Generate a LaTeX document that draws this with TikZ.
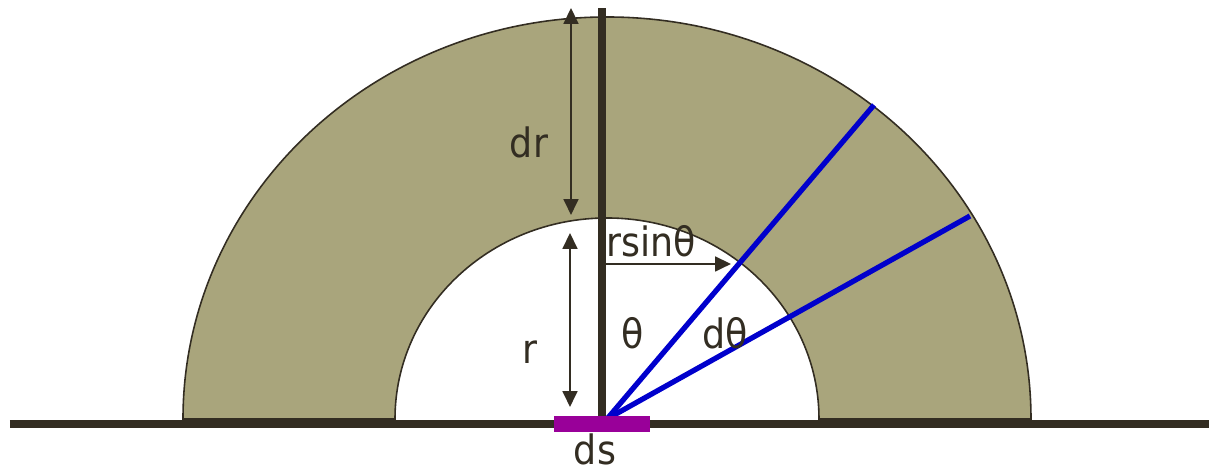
\documentclass[tikz,border=0pt]{standalone}
\usepackage{fontspec}
\setmainfont{DejaVu Sans}[FakeStretch=0.9]
\definecolor{inkdark}{RGB}{51,45,34}
\definecolor{ringfill}{RGB}{169,165,124}
\definecolor{rayblue}{RGB}{0,0,204}
\definecolor{stripmag}{RGB}{153,0,153}
\usetikzlibrary{arrows.meta,positioning,calc}

\tikzset{
  dimarrow/.style={draw=inkdark, line width=0.6pt,
    {Triangle[length=4.5pt,width=4.2pt]}-{Triangle[length=4.5pt,width=4.2pt]}},
  onearrow/.style={draw=inkdark, line width=0.6pt,
    -{Triangle[length=4.5pt,width=4.2pt]}},
  ray/.style={draw=rayblue, line width=1.5pt},
  lbl/.style={text=inkdark, font=\fontsize{11.5}{13}\selectfont, inner sep=0pt}
}

\begin{document}
\begin{tikzpicture}[x=0.01cm, y=0.01cm]
  \useasboundingbox (-607,-52) rectangle (602,419);
  \coordinate (O) at (0,0);

  % half ring
  \fill[ringfill, draw=inkdark, line width=0.45pt]
    (-424,0) arc[start angle=180, end angle=0, x radius=424, y radius=402]
    -- (212,0) arc[start angle=0, end angle=180, x radius=212, y radius=201]
    -- cycle;

  % floor and axis
  \coordinate (floorL) at (-597,-5);
  \coordinate (floorR) at (602,-5);
  \coordinate (axisB) at (-5,-5);
  \coordinate (axisT) at (-5,411);
  \draw[inkdark, line width=2.2pt] (floorL) -- (floorR);
  \draw[inkdark, line width=2pt] (axisB) -- (axisT);

  % rays
  \coordinate (rayA) at (267,314);
  \coordinate (rayB) at (363,203);
  \draw[ray] (O) -- (rayA);
  \draw[ray] (O) -- (rayB);

  % surface element
  \node[fill=stripmag, inner sep=0pt,
        minimum width=0.96cm, minimum height=0.16cm] (strip) at (-5,-5) {};
  \node[lbl] (dslbl) at (-12,-30) {ds};

  % dimension arrows
  \coordinate (drT) at (-36,411);
  \coordinate (drB) at (-36,204);
  \draw[dimarrow] (drT) -- (drB);
  \node[lbl] (drlbl) at (-78,277) {dr};

  \coordinate (rT) at (-37,186);
  \coordinate (rB) at (-37,12);
  \draw[dimarrow] (rT) -- (rB);
  \node[lbl] (rlbl) at (-77,67) {r};

  \coordinate (sinL) at (-1,155);
  \coordinate (sinR) at (124,155);
  \draw[onearrow] (sinL) -- (sinR);
  \node[lbl] (sinlbl) at (44,178) {rsinθ};

  \node[lbl] (thlbl) at (26,86) {θ};
  \node[lbl] (dthlbl) at (118,86) {dθ};
\end{tikzpicture}
\end{document}
